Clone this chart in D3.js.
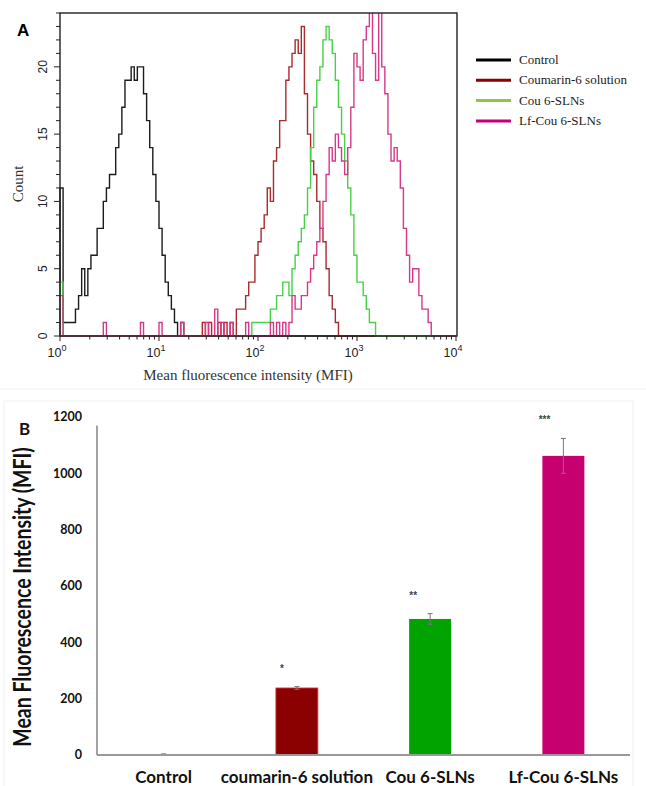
<!DOCTYPE html>
<html>
<head>
<meta charset="utf-8">
<script src="https://cdn.jsdelivr.net/npm/d3@7"></script>
<style>
body { margin: 0; background: #fff; }
svg { display: block; }
</style>
</head>
<body>
<div id="chart"></div>
<script>
// ---- panel A: flow cytometry histograms (counts per channel, 32 channels per decade from 10^0)
var binsPerDecade = 32;

var controlCounts = [
  11,1,1,1,1,2,3,5,3,5,6,6,8,8,10,11,
  12,12,14,15,17,19,19,20,19,20,20,18,16,14,12,10,
  8,6,4,3,2,1,0,1,0,0,0,0,0,0,0,0,
  0,0,0,0,0,0,0,0,0,0,0,0,0,0,0,0,
  0,0,0,0,0,0,0,0,0,0,0,0,0,0,0,0,
  0,0,0,0,0,0,0,0,0,0,0,0,0,0,0,0,
  0,0,0,0,0,0,0,0,0,0,0,0,0,0,0,0,
  0,0,0,0,0,0,0,0,0,0,0,0,0,0,0,0
];
var coumarinCounts = [
  0,0,0,0,0,0,0,0,0,0,0,0,0,0,0,0,
  0,0,0,0,0,0,0,0,0,0,0,0,0,0,0,0,
  0,0,0,0,0,0,0,0,0,0,0,0,0,0,1,0,
  1,0,0,1,0,1,0,1,0,2,2,2,3,4,4,6,
  7,8,9,11,10,13,14,16,16,19,20,21,22,21,23,18,
  15,13,12,10,8,7,5,3,2,1,0,0,0,0,0,0,
  0,0,0,0,0,0,0,0,0,0,0,0,0,0,0,0,
  0,0,0,0,0,0,0,0,0,0,0,0,0,0,0,0
];
var couSlnCounts = [
  4,0,0,0,0,0,0,0,0,0,0,0,0,0,0,0,
  0,0,0,0,0,0,0,0,0,0,0,0,0,0,0,0,
  0,0,0,0,0,0,0,0,0,0,0,0,0,0,0,0,
  0,0,0,0,0,0,0,0,0,0,0,0,0,0,1,1,
  1,1,1,1,2,2,3,3,4,4,3,5,6,7,8,9,
  11,14,17,19,20,22,23,22,21,19,17,15,13,11,9,6,
  4,4,3,2,1,1,0,0,0,0,0,0,0,0,0,0,
  0,0,0,0,0,0,0,0,0,0,0,0,0,0,0,0
];
var lfCouSlnCounts = [
  3,0,0,0,0,0,0,0,0,0,0,0,0,0,1,0,
  0,0,0,0,0,0,0,0,0,0,1,0,0,0,0,0,
  1,0,0,0,0,0,0,1,0,0,0,0,0,0,0,1,
  0,0,2,0,1,0,0,1,0,0,0,0,1,0,0,0,
  0,0,0,0,1,0,1,0,1,0,1,3,2,2,3,3,
  4,5,6,7,8,10,12,14,13,15,14,13,12,14,17,21,
  20,19,22,23,25,21,19,25,20,18,15,13,14,13,11,8,
  6,4,5,5,3,2,2,1,0,0,0,0,0,0,0,0
];

var histNames = ["Control", "Coumarin-6 solution", "Cou 6-SLNs", "Lf-Cou 6-SLNs"];
var histData = [controlCounts, coumarinCounts, couSlnCounts, lfCouSlnCounts];
var histLineColors = ["#1c1c1c", "#a82c2c", "#48d048", "#d8388a"];
var legendColors = ["#000000", "#8b0000", "#8dc63f", "#c4007a"];
var countTicks = [0, 5, 10, 15, 20];
var decadeTicks = [1, 10, 100, 1000, 10000];

// ---- panel B: mean fluorescence intensity bars
var barCategories = ["Control", "coumarin-6 solution", "Cou 6-SLNs", "Lf-Cou 6-SLNs"];
var barValues = [3, 238, 483, 1062];
var barErrors = [1, 5, 19, 62];
var barStars = ["", "*", "**", "***"];
var barColors = ["#2a2a2a", "#8b0000", "#00a300", "#c6006e"];
var mfiTicks = [0, 200, 400, 600, 800, 1000, 1200];

var width = 646, height = 786;

var svg = d3.select("#chart").append("svg")
    .attr("width", width)
    .attr("height", height);

// ================= panel A =================
var x = d3.scaleLog().domain([1, 10000]).range([60, 456]);
var y = d3.scaleLinear().domain([0, 24]).range([336, 13]);

var gA = svg.append("g");

gA.append("clipPath").attr("id", "plotclip")
  .append("rect")
    .attr("x", x(1) - 1).attr("y", y(24))
    .attr("width", x(10000) - x(1) + 2).attr("height", y(0) - y(24) + 2);

var line = d3.line()
    .x(function(d) { return x(Math.pow(10, d[0] / binsPerDecade)); })
    .y(function(d) { return y(d[1]); })
    .curve(d3.curveStepAfter);

function histPoints(counts) {
  var pts = [[0, 0]];
  counts.forEach(function(c, i) { pts.push([i, c]); });
  pts.push([counts.length, 0]);
  return pts;
}

gA.append("g").attr("clip-path", "url(#plotclip)")
  .selectAll("path.hist")
  .data(histData)
  .enter()
  .append("path")
    .attr("class", "hist")
    .attr("d", function(d) { return line(histPoints(d)); })
    .attr("fill", "none")
    .attr("stroke", function(d, i) { return histLineColors[i]; })
    .attr("stroke-width", 1.4)
    .attr("stroke-linejoin", "miter");

// frame
gA.append("rect")
    .attr("x", x(1)).attr("y", y(24))
    .attr("width", x(10000) - x(1) + 1).attr("height", y(0) - y(24))
    .attr("fill", "none")
    .attr("stroke", "#222")
    .attr("stroke-width", 1.4);

// y ticks (every count, major every 5)
gA.selectAll("line.ytick")
  .data(d3.range(0, 25))
  .enter().append("line")
    .attr("x1", x(1)).attr("x2", function(d) { return x(1) - (d % 5 === 0 ? 6 : 4); })
    .attr("y1", function(d) { return y(d); }).attr("y2", function(d) { return y(d); })
    .attr("stroke", "#222").attr("stroke-width", 1);

gA.selectAll("text.ylab")
  .data(countTicks)
  .enter().append("text")
    .attr("transform", function(d) { return "translate(47," + y(d) + ") rotate(-90)"; })
    .attr("text-anchor", "middle")
    .style("font", "12px 'Liberation Sans', Arial, sans-serif")
    .attr("fill", "#222")
    .text(function(d) { return d; });

// x ticks (log, minor 2..9)
var xTickVals = [];
for (var k = 0; k < 4; k++) {
  for (var m = 1; m < 10; m++) xTickVals.push(m * Math.pow(10, k));
}
xTickVals.push(10000);

gA.selectAll("line.xtick")
  .data(xTickVals)
  .enter().append("line")
    .attr("x1", function(d) { return x(d); }).attr("x2", function(d) { return x(d); })
    .attr("y1", y(0)).attr("y2", function(d) { return y(0) + (decadeTicks.indexOf(d) >= 0 ? 5 : 3.5); })
    .attr("stroke", "#222").attr("stroke-width", 1);

var xlab = gA.selectAll("text.xlab")
  .data(decadeTicks)
  .enter().append("text")
    .attr("x", function(d) { return x(d) - 3; })
    .attr("y", 357)
    .attr("text-anchor", "middle")
    .style("font", "12.5px 'Liberation Sans', Arial, sans-serif")
    .attr("fill", "#222");
xlab.append("tspan").text("10");
xlab.append("tspan")
    .attr("dy", -6)
    .style("font-size", "9px")
    .text(function(d) { return Math.round(Math.log10(d)); });

gA.append("text")
    .attr("x", 248).attr("y", 380)
    .attr("text-anchor", "middle")
    .style("font", "15px 'Liberation Serif', 'Times New Roman', serif")
    .attr("fill", "#333")
    .text("Mean fluorescence intensity (MFI)");

gA.append("text")
    .attr("transform", "translate(23,184) rotate(-90)")
    .attr("text-anchor", "middle")
    .style("font", "15px 'Liberation Serif', 'Times New Roman', serif")
    .attr("fill", "#333")
    .text("Count");

gA.append("text")
    .attr("x", 17).attr("y", 36)
    .style("font", "bold 17px 'Liberation Sans', Arial, sans-serif")
    .text("A");

// legend
var leg = gA.selectAll("g.leg")
  .data(histNames)
  .enter().append("g")
    .attr("transform", function(d, i) { return "translate(476," + (60 + i * 20.3) + ")"; });
leg.append("line")
    .attr("x1", 0).attr("x2", 35)
    .attr("stroke", function(d, i) { return legendColors[i]; })
    .attr("stroke-width", 3);
leg.append("text")
    .attr("x", 43).attr("y", 4)
    .style("font", "13px 'Liberation Serif', 'Times New Roman', serif")
    .attr("fill", "#222")
    .text(function(d) { return d; });

// ================= panel B =================
var gB = svg.append("g");

gB.append("line")
    .attr("x1", 0).attr("x2", width).attr("y1", 389).attr("y2", 389)
    .attr("stroke", "#f0f0f0");
gB.append("rect")
    .attr("x", 4).attr("y", 401).attr("width", 629).attr("height", 390)
    .attr("fill", "none").attr("stroke", "#f0f0f0");

var yB = d3.scaleLinear().domain([0, 1200]).range([755, 417]);
var xB = d3.scaleBand().domain(barCategories).range([97, 630])
    .paddingInner(0.685).paddingOuter(0.3425);

gB.selectAll("rect.bar")
  .data(barValues)
  .enter().append("rect")
    .attr("class", "bar")
    .attr("x", function(d, i) { return xB(barCategories[i]); })
    .attr("y", function(d) { return yB(d); })
    .attr("width", xB.bandwidth())
    .attr("height", function(d) { return yB(0) - yB(d); })
    .attr("fill", function(d, i) { return barColors[i]; })
    .attr("stroke", function(d, i) { return i === 1 ? "#e03a3a" : "none"; })
    .attr("stroke-width", 0.8);

// error bars
var eb = gB.selectAll("g.err")
  .data(barValues)
  .enter().append("g")
    .attr("transform", function(d, i) { return "translate(" + (xB(barCategories[i]) + xB.bandwidth() / 2) + ",0)"; });
eb.append("line")
    .attr("y1", function(d, i) { return yB(d - barErrors[i]); })
    .attr("y2", function(d, i) { return yB(d + barErrors[i]); })
    .attr("stroke", "#777").attr("stroke-width", 1);
eb.append("line")
    .attr("x1", -2.5).attr("x2", 2.5)
    .attr("y1", function(d, i) { return yB(d + barErrors[i]); })
    .attr("y2", function(d, i) { return yB(d + barErrors[i]); })
    .attr("stroke", "#777").attr("stroke-width", 1);
eb.append("line")
    .attr("x1", -2.5).attr("x2", 2.5)
    .attr("y1", function(d, i) { return yB(d - barErrors[i]); })
    .attr("y2", function(d, i) { return yB(d - barErrors[i]); })
    .attr("stroke", "#777").attr("stroke-width", 1);
eb.append("text")
    .attr("x", -13)
    .attr("y", function(d, i) { return yB(d + barErrors[i]) - 15; })
    .attr("text-anchor", "end")
    .style("font", "bold 10px 'Liberation Sans', Arial, sans-serif")
    .attr("fill", "#444")
    .text(function(d, i) { return barStars[i]; });

// axes
gB.append("line")
    .attr("x1", 97).attr("x2", 97)
    .attr("y1", yB(0)).attr("y2", yB(1170))
    .attr("stroke", "#666").attr("stroke-width", 1.2);
gB.append("line")
    .attr("x1", 97).attr("x2", 630)
    .attr("y1", yB(0)).attr("y2", yB(0))
    .attr("stroke", "#999").attr("stroke-width", 2);

gB.selectAll("text.ytB")
  .data(mfiTicks)
  .enter().append("text")
    .attr("x", 82)
    .attr("y", function(d) { return yB(d); })
    .attr("dy", "0.35em")
    .attr("text-anchor", "end")
    .style("font", "bold 12.5px Lato, 'Open Sans', sans-serif")
    .attr("fill", "#111")
    .text(function(d) { return d; });

gB.selectAll("text.xtB")
  .data(barCategories)
  .enter().append("text")
    .attr("x", function(d) { return xB(d) + xB.bandwidth() / 2; })
    .attr("y", 783)
    .attr("text-anchor", "middle")
    .style("font", "bold 17px Lato, 'Open Sans', sans-serif")
    .attr("fill", "#111")
    .text(function(d) { return d; });

// axis title: glyphs taller than wide in the source figure
gB.append("text")
    .attr("transform", "translate(31,597) rotate(-90) scale(1,1.3)")
    .attr("text-anchor", "middle")
    .style("font", "bold 19.5px Lato, 'Open Sans', sans-serif")
    .attr("fill", "#111")
    .text("Mean Fluorescence Intensity (MFI)");

gB.append("text")
    .attr("x", 19).attr("y", 435)
    .style("font", "bold 17px Lato, 'Open Sans', sans-serif")
    .attr("fill", "#111")
    .text("B");
</script>
</body>
</html>
